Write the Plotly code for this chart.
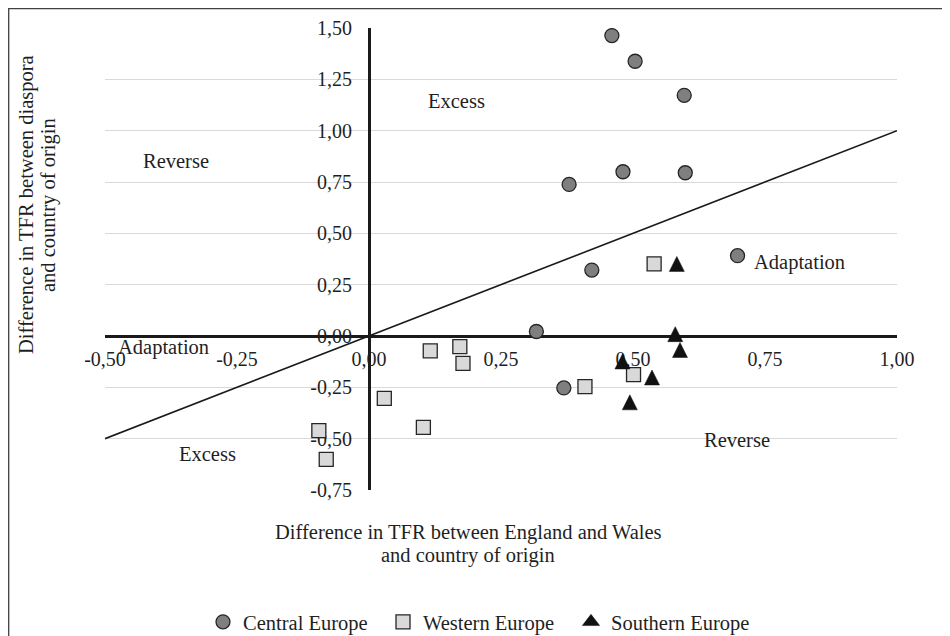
import plotly.graph_objects as go

# ---------------- data ----------------
central_x = [0.460, 0.504, 0.597, 0.379, 0.481, 0.599, 0.698, 0.422, 0.317, 0.369]
central_y = [1.463, 1.338, 1.172, 0.738, 0.800, 0.795, 0.391, 0.321, 0.022, -0.253]

western_x = [0.540, 0.409, 0.501, 0.116, 0.172, 0.178, 0.029, 0.103, -0.095, -0.081]
western_y = [0.351, -0.247, -0.188, -0.072, -0.052, -0.133, -0.304, -0.445, -0.461, -0.601]

southern_x = [0.583, 0.580, 0.589, 0.480, 0.536, 0.494]
southern_y = [0.351, 0.009, -0.068, -0.124, -0.202, -0.323]

x_tickvals = [-0.50, -0.25, 0.00, 0.25, 0.50, 0.75, 1.00]
x_ticktext = ["-0,50", "-0,25", "0,00", "0,25", "0,50", "0,75", "1,00"]
y_tickvals = [-0.75, -0.50, -0.25, 0.00, 0.25, 0.50, 0.75, 1.00, 1.25, 1.50]
y_ticktext = ["-0,75", "-0,50", "-0,25", "0,00", "0,25", "0,50", "0,75", "1,00", "1,25", "1,50"]

region_labels = ["Excess", "Reverse", "Adaptation", "Adaptation", "Excess", "Reverse"]
region_x = [0.165, -0.366, 0.815, -0.390, -0.306, 0.697]
region_y = [1.146, 0.854, 0.358, -0.057, -0.575, -0.507]

x_title = ["Difference in TFR between England and Wales", "and country of origin"]
y_title = ["Difference in TFR between diaspora", "and country of origin"]
series_names = ["Central Europe", "Western Europe", "Southern Europe"]

XRANGE = [-0.5, 1.0]
YRANGE = [-0.75, 1.5]

FONT = "Liberation Serif, Times New Roman, serif"
TXT = "#1f1f1f"
FS = 20.5

# ---------------- layout geometry (pixels) ----------------
W, H = 950, 636
OFF = 8  # page body margin offset of the figure in the screenshot
ML, MT = 97, 20
PW, PH = 792, 462
MR, MB = W - ML - PW, H - MT - PH


def px_x(p):
    """screen x pixel -> paper x"""
    return (p - OFF - ML) / PW


def px_y(p):
    """screen y pixel -> paper y"""
    return (MT + PH - (p - OFF)) / PH


fig = go.Figure()

# diagonal reference line (y = x) across the x range
fig.add_trace(go.Scatter(
    x=XRANGE, y=XRANGE, mode="lines",
    line=dict(color="#1a1a1a", width=1.6),
    showlegend=False, hoverinfo="skip"))

fig.add_trace(go.Scatter(
    x=central_x, y=central_y, mode="markers", name=series_names[0],
    marker=dict(symbol="circle", size=14, color="#7f7f7f",
                line=dict(color="#262626", width=1.3)),
    legendwidth=135, legendrank=1))

fig.add_trace(go.Scatter(
    x=western_x, y=western_y, mode="markers", name=series_names[1],
    marker=dict(symbol="square", size=14, color="#d9d9d9",
                line=dict(color="#262626", width=1.3)),
    legendwidth=143, legendrank=2))

# southern europe: upward triangle centred on the point
fig.add_trace(go.Scatter(
    x=southern_x, y=southern_y, mode="markers", name=series_names[2],
    marker=dict(symbol="arrow-down", angle=180, size=15, color="#111111", standoff=7.5,
                line=dict(color="#111111", width=0.5)),
    showlegend=False, legendgroup="south"))
# legend entry for southern europe
fig.add_trace(go.Scatter(
    x=[None], y=[None], mode="markers", name=series_names[2],
    marker=dict(symbol="triangle-up", size=15, color="#111111",
                line=dict(color="#111111", width=0.5)),
    legendgroup="south", legendrank=3))

pos_x_axis = (0 - YRANGE[0]) / (YRANGE[1] - YRANGE[0])
pos_y_axis = (0 - XRANGE[0]) / (XRANGE[1] - XRANGE[0])

fig.update_xaxes(
    range=XRANGE, tickvals=x_tickvals, ticktext=x_ticktext,
    showgrid=False, zeroline=False, showline=True, linewidth=3, linecolor="#1a1a1a",
    anchor="free", position=pos_x_axis, ticks="", ticklabelstandoff=4,
    tickfont=dict(family=FONT, size=20, color=TXT), layer="below traces",
    automargin=False, fixedrange=True)

fig.update_yaxes(
    range=YRANGE, tickvals=y_tickvals, ticktext=y_ticktext,
    showgrid=True, gridcolor="#d9d9d9", gridwidth=1.2,
    zeroline=False, showline=True, linewidth=3, linecolor="#1a1a1a",
    anchor="free", position=pos_y_axis, ticks="", ticklabelstandoff=12,
    tickfont=dict(family=FONT, size=20, color=TXT), layer="below traces",
    automargin=False, fixedrange=True)

annotations = []
for t, x, y in zip(region_labels, region_x, region_y):
    annotations.append(dict(x=x, y=y, xref="x", yref="y", text=t, showarrow=False,
                            xanchor="center", yanchor="middle",
                            font=dict(family=FONT, size=FS, color=TXT)))

# axis titles (two lines each)
for t, py in zip(x_title, [532, 555]):
    annotations.append(dict(x=px_x(468), y=px_y(py), xref="paper", yref="paper",
                            text=t, showarrow=False, xanchor="center", yanchor="middle",
                            font=dict(family=FONT, size=FS, color=TXT)))
for t, pxx in zip(y_title, [27, 49]):
    annotations.append(dict(x=px_x(pxx), y=px_y(205), xref="paper", yref="paper",
                            text=t, showarrow=False, textangle=-90,
                            xanchor="center", yanchor="middle",
                            font=dict(family=FONT, size=FS, color=TXT)))

shapes = [dict(type="rect", xref="paper", yref="paper",
               x0=px_x(OFF + 0.7), x1=px_x(W + 30), y0=px_y(H + 60), y1=px_y(OFF + 0.7),
               line=dict(color="#404040", width=1.3), fillcolor="rgba(0,0,0,0)",
               layer="below")]

fig.update_layout(
    width=W, height=H, autosize=False,
    margin=dict(l=ML, r=MR, t=MT, b=MB, pad=0, autoexpand=False),
    paper_bgcolor="white", plot_bgcolor="white",
    font=dict(family=FONT, size=FS, color=TXT),
    showlegend=True,
    legend=dict(orientation="h", x=px_x(203), y=px_y(622), xanchor="left", yanchor="middle",
                font=dict(family=FONT, size=FS, color=TXT), bgcolor="rgba(0,0,0,0)",
                itemclick=False, itemdoubleclick=False, traceorder="normal"),
    annotations=annotations, shapes=shapes,
)

fig.write_html("out.html")
